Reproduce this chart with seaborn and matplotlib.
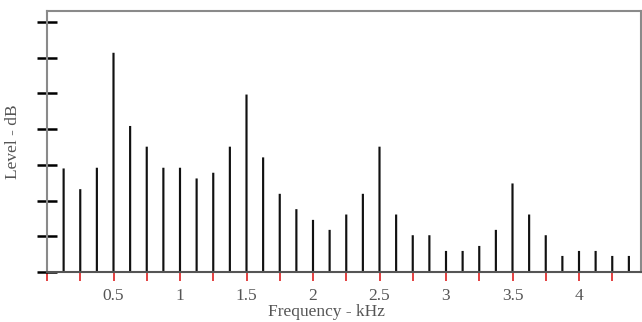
import matplotlib
matplotlib.use("Agg")
import matplotlib.pyplot as plt
import seaborn as sns
import pandas as pd

# Harmonic number (frequency = n * 0.125 kHz) and level (axis units)
harmonic = list(range(1, 36))
frequency_khz = [n * 0.125 for n in harmonic]
level = [2.90, 2.32, 2.92, 6.14, 4.09, 3.51, 2.92, 2.92, 2.62, 2.78,
         3.51, 4.97, 3.21, 2.19, 1.76, 1.46, 1.18, 1.61, 2.19, 3.51,
         1.61, 1.03, 1.03, 0.59, 0.59, 0.73, 1.18, 2.48, 1.61, 1.03,
         0.45, 0.59, 0.59, 0.45, 0.45]
xtick_values = [i * 0.25 for i in range(18)]
xtick_labels = ["", "", "0.5", "", "1", "", "1.5", "", "2", "", "2.5", "",
                "3", "", "3.5", "", "4", ""]
ytick_values = list(range(8))

df = pd.DataFrame({"freq": frequency_khz, "level": level})

sns.set_style("white")
plt.rcParams["font.family"] = ["Liberation Serif", "DejaVu Serif"]

fig = plt.figure(figsize=(6.42, 3.22), dpi=100)
ax = fig.add_axes([47 / 642, 50 / 322, 594 / 642, 261 / 322])

sns.barplot(data=df, x="freq", y="level", native_scale=True, width=0.13,
            color="#111111", saturation=1, ax=ax, edgecolor="none")
for p in ax.patches:
    p.set_snap(False)

ax.set_xlim(0, 594 / 133)
ax.set_ylim(0, 7.31)

for s in ax.spines.values():
    s.set_color("#8a8a8a")
    s.set_linewidth(1.5)
ax.spines["bottom"].set_color("#555555")

ax.set_xticks(xtick_values)
ax.set_xticklabels(xtick_labels, fontsize=12.5, color="#555555")
ax.tick_params(axis="x", colors="#e03030", direction="out", length=6.5,
               width=1.3, labelcolor="#555555", pad=5, bottom=True)
ax.set_yticks(ytick_values)
ax.set_yticklabels([])
ax.tick_params(axis="y", colors="black", direction="inout", length=14.5,
               width=1.8, left=True)

ax.set_xlabel("Frequency - kHz", fontsize=12.5, color="#555555", va="bottom")
ax.xaxis.set_label_coords((326 - 47) / 594, -48 / 261)
ax.set_ylabel("Level - dB", fontsize=12.5, color="#555555")
ax.yaxis.set_label_coords(-0.043, 0.5)

fig.savefig("out.png", dpi=100)
